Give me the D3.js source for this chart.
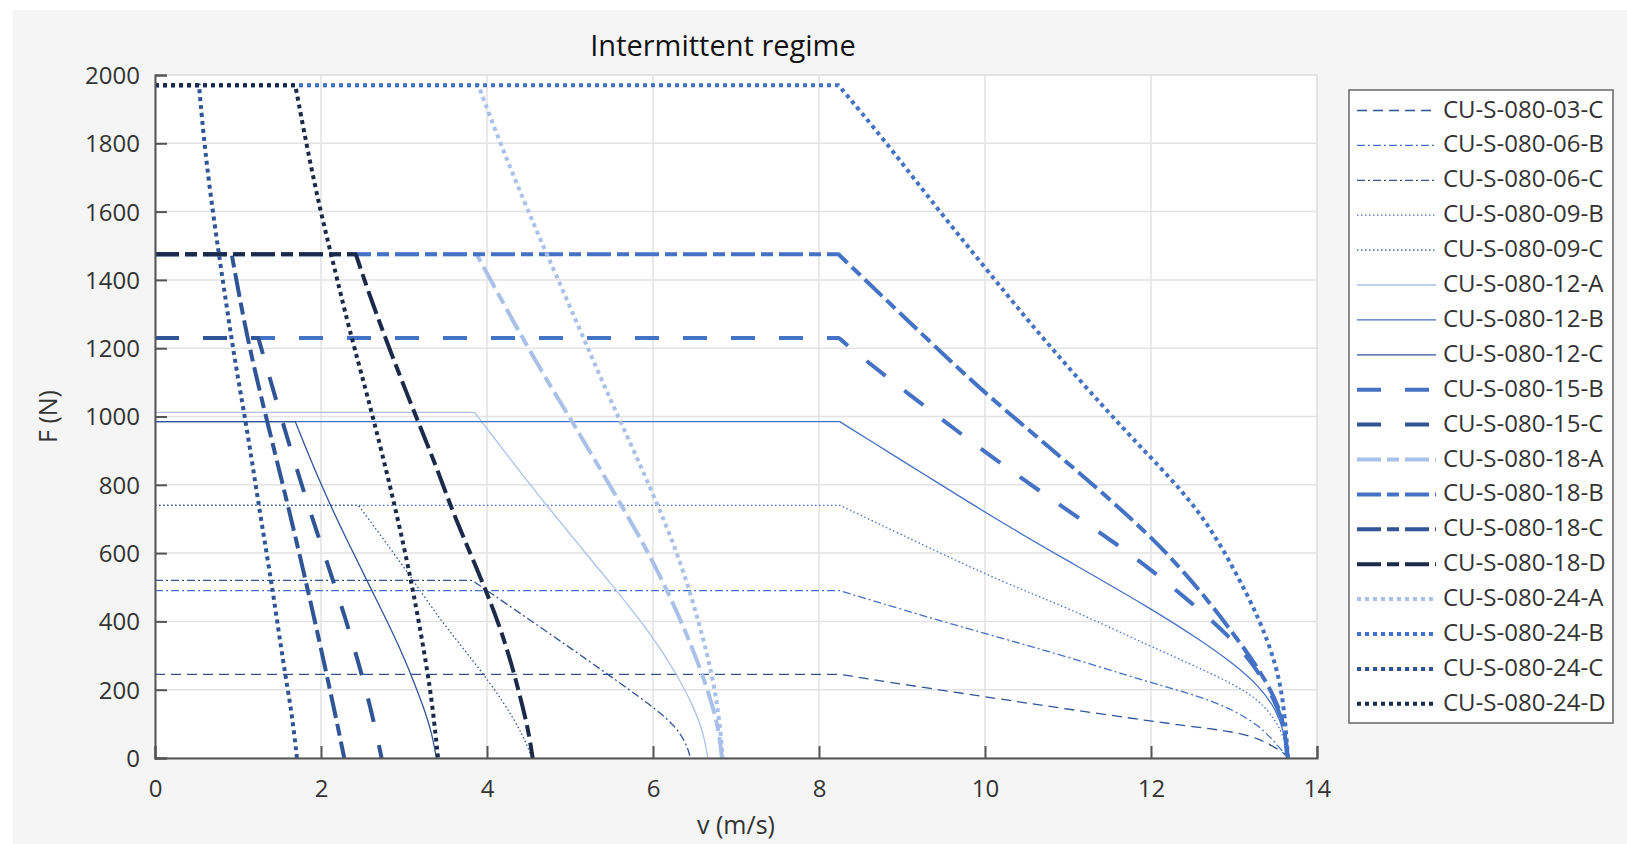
<!DOCTYPE html>
<html>
<head>
<meta charset="utf-8">
<title>Intermittent regime</title>
<script src="https://cdn.jsdelivr.net/npm/d3@7"></script>
<style>
  body { margin: 0; background: #fff; }
  text { font-family: "Open Sans", sans-serif; fill: #333; }
</style>
</head>
<body>
<svg id="viz"></svg>
<script>
// force / speed curves, [v (m/s), F (N)]
// first two points = flat part up to the knee, the rest = falling part
var cu03C = [[0,245],[8.25,245],[9,216],[10.2,172],[11,143],[12,108],[12.5,92],[13,77],[13.3,57],[13.5,30],[13.6,14],[13.65,0]];
var cu06B = [[0,490],[8.25,490],[9.2,420],[10.2,351],[11,296],[12,220],[12.6,180],[13,140],[13.3,95],[13.5,45],[13.65,0]];
var cu06C = [[0,520],[3.82,520],[4.64,384],[5.44,248],[6.0,150],[6.2,108],[6.33,73],[6.42,30],[6.45,0]];
var cu09B = [[0,740],[8.25,740],[9.2,630],[10.2,516],[11,440],[12,326],[12.6,262],[13,215],[13.3,170],[13.5,111],[13.6,62],[13.65,0]];
var cu09C = [[0,740],[2.45,740],[3.03,550],[3.43,405],[3.83,287],[4.2,165],[4.44,65],[4.54,0]];
var cu12A = [[0,1012],[3.85,1012],[4.72,736],[5.56,492],[6.0,355],[6.28,248],[6.49,150],[6.61,72],[6.66,0]];
var cu12B = [[0,985],[8.25,985],[8.94,880],[9.22,838],[10.18,692],[10.98,580],[12.0,438],[12.59,346],[12.99,277],[13.31,209],[13.51,141],[13.61,72],[13.65,0]];
var cu12C = [[0,985],[1.69,985],[1.99,804],[2.31,638],[2.63,482],[2.95,326],[3.19,180],[3.33,82],[3.39,0]];
var cu15B = [[0,1230],[8.24,1230],[8.53,1170],[9.08,1066],[9.67,956],[10.38,829],[11.08,711],[11.57,629],[12.03,546],[12.47,458],[12.91,365],[13.27,267],[13.55,141],[13.62,70],[13.65,0]];
var cu15C = [[0,1230],[1.245,1230],[1.585,941],[1.93,673],[2.31,404],[2.6,150],[2.73,0]];
var cu18A = [[0,1475],[3.875,1475],[4.24,1312],[4.66,1130],[5.04,980],[5.56,765],[6.0,580],[6.41,365],[6.65,209],[6.79,92],[6.83,0]];
var cu18B = [[0,1475],[8.235,1475],[9.27,1234],[10.02,1063],[10.9,885],[12.0,653],[12.59,492],[12.99,365],[13.31,258],[13.55,150],[13.62,70],[13.64,0]];
var cu18C = [[0,1475],[0.924,1475],[1.105,1234],[1.32,1015],[1.627,716],[1.907,424],[2.17,131],[2.28,0]];
var cu18D = [[0,1475],[2.42,1475],[2.63,1322],[3.03,1068],[3.43,830],[3.59,716],[4.0,487],[4.24,326],[4.4,180],[4.5,80],[4.55,0]];
var cu24A = [[0,1970],[3.895,1970],[4.16,1800],[4.44,1634],[4.68,1497],[4.86,1400],[5.38,1107],[5.6,990],[6.0,775],[6.33,580],[6.57,384],[6.73,228],[6.81,92],[6.84,0]];
var cu24B = [[0,1970],[8.235,1970],[8.77,1815],[9.42,1610],[10.02,1430],[10.72,1220],[11.68,960],[12.0,880],[12.59,725],[12.99,560],[13.31,405],[13.5,280],[13.6,165],[13.65,0]];
var cu24C = [[0,1970],[0.53,1970],[0.6,1780],[0.72,1556],[0.84,1361],[0.96,1165],[1.105,970],[1.265,716],[1.425,482],[1.545,277],[1.65,131],[1.71,0]];
var cu24D = [[0,1970],[1.69,1970],[1.83,1790],[1.99,1604],[2.15,1448],[2.33,1263],[2.63,1000],[3.03,599],[3.27,277],[3.35,140],[3.41,0]];

var seriesNames = ["CU-S-080-03-C","CU-S-080-06-B","CU-S-080-06-C","CU-S-080-09-B","CU-S-080-09-C",
    "CU-S-080-12-A","CU-S-080-12-B","CU-S-080-12-C","CU-S-080-15-B","CU-S-080-15-C",
    "CU-S-080-18-A","CU-S-080-18-B","CU-S-080-18-C","CU-S-080-18-D",
    "CU-S-080-24-A","CU-S-080-24-B","CU-S-080-24-C","CU-S-080-24-D"];
var seriesValues = [cu03C, cu06B, cu06C, cu09B, cu09C, cu12A, cu12B, cu12C, cu15B, cu15C,
    cu18A, cu18B, cu18C, cu18D, cu24A, cu24B, cu24C, cu24D];

var vTicks = [0, 2, 4, 6, 8, 10, 12, 14];
var fTicks = [0, 200, 400, 600, 800, 1000, 1200, 1400, 1600, 1800, 2000];

// styles, one per series
var cA = "#a9c1e8", cB = "#4472c4", cC = "#2f5597", cD = "#1b2a4a";
var thin = 1.3, thick = 4;
var styles = [
    {color: cC, w: thin, dash: "10,6"},
    {color: cB, w: thin, dash: "8,3,2,3"},
    {color: cC, w: thin, dash: "8,3,2,3"},
    {color: cB, w: thin, dash: "1.5,2.5"},
    {color: cC, w: thin, dash: "1.5,2.5"},
    {color: cA, w: thin, dash: null},
    {color: cB, w: thin, dash: null},
    {color: cC, w: thin, dash: null},
    {color: cB, w: thick, dash: "24,24"},
    {color: cC, w: thick, dash: "24,24"},
    {color: cA, w: thick, dash: "24,6,12,6"},
    {color: cB, w: thick, dash: "24,6,12,6"},
    {color: cC, w: thick, dash: "24,6,12,6"},
    {color: cD, w: thick, dash: "24,6,12,6"},
    {color: cA, w: thick, dash: "4,4"},
    {color: cB, w: thick, dash: "4,4"},
    {color: cC, w: thick, dash: "4,4"},
    {color: cD, w: thick, dash: "4,4"}
];

var width = 1627, height = 844;
var plot = {left: 155, right: 1317, top: 75, bottom: 758};

var svg = d3.select("#viz").attr("width", width).attr("height", height);

// figure background
svg.append("rect").attr("width", width).attr("height", height).attr("fill", "#fff");
svg.append("rect").attr("x", 13).attr("y", 10).attr("width", width - 13).attr("height", height - 10)
    .attr("fill", "#f5f5f5");

var x = d3.scaleLinear().domain([0, 14]).range([plot.left, plot.right]);
var y = d3.scaleLinear().domain([0, 2000]).range([plot.bottom, plot.top]);

// axes box
svg.append("rect")
    .attr("x", plot.left).attr("y", plot.top)
    .attr("width", plot.right - plot.left).attr("height", plot.bottom - plot.top)
    .attr("fill", "#fff").attr("stroke", "#dcdcdc").attr("stroke-width", 1.5);

// grid
var grid = svg.append("g").attr("class", "grid");
grid.selectAll("line.v").data(vTicks.slice(1, -1)).enter().append("line")
    .attr("x1", function(d) { return x(d); }).attr("x2", function(d) { return x(d); })
    .attr("y1", plot.top).attr("y2", plot.bottom)
    .attr("stroke", "#e2e2e2").attr("stroke-width", 1.5);
grid.selectAll("line.h").data(fTicks.slice(1, -1)).enter().append("line")
    .attr("y1", function(d) { return y(d); }).attr("y2", function(d) { return y(d); })
    .attr("x1", plot.left).attr("x2", plot.right)
    .attr("stroke", "#e2e2e2").attr("stroke-width", 1.5);

svg.append("clipPath").attr("id", "clip").append("rect")
    .attr("x", plot.left).attr("y", plot.top - 4)
    .attr("width", plot.right - plot.left).attr("height", plot.bottom - plot.top + 4);

var flat = d3.line()
    .x(function(d) { return x(d[0]); })
    .y(function(d) { return y(d[1]); });
// falling part smoothed, the knee stays sharp
var fall = d3.line()
    .x(function(d) { return x(d[0]); })
    .y(function(d) { return y(d[1]); })
    .curve(d3.curveBasis);

function curvePath(vals) {
    return flat(vals.slice(0, 2)) + fall(vals.slice(1)).replace(/^M/, "L");
}

var curves = svg.append("g").attr("clip-path", "url(#clip)");
seriesValues.forEach(function(vals, i) {
    var s = styles[i];
    curves.append("path")
        .attr("d", curvePath(vals))
        .attr("fill", "none")
        .attr("stroke", s.color)
        .attr("stroke-width", s.w)
        .attr("stroke-dasharray", s.dash)
        .attr("stroke-linejoin", "round");
});

// axes (ticks pointing inwards)
var xAxis = d3.axisBottom(x).tickValues(vTicks).tickSize(-12).tickPadding(22).tickFormat(d3.format("d"));
var yAxis = d3.axisLeft(y).tickValues(fTicks).tickSize(-12).tickPadding(15).tickFormat(d3.format("d"));

var gx = svg.append("g").attr("transform", "translate(0," + plot.bottom + ")").call(xAxis);
var gy = svg.append("g").attr("transform", "translate(" + plot.left + ",0)").call(yAxis);
[gx, gy].forEach(function(g) {
    g.select(".domain").attr("stroke", "#555").attr("stroke-width", 2);
    g.selectAll(".tick line").attr("stroke", "#555").attr("stroke-width", 2);
    g.selectAll(".tick text").attr("font-size", 24).attr("font-family", "Open Sans").attr("fill", "#333");
});
gy.selectAll(".tick text").attr("dy", "0.35em");

// titles
svg.append("text").attr("x", 723).attr("y", 56).attr("text-anchor", "middle")
    .attr("font-size", 29).style("fill", "#111").text("Intermittent regime");
svg.append("text").attr("x", (plot.left + plot.right) / 2).attr("y", 834).attr("text-anchor", "middle")
    .attr("font-size", 25).text("v (m/s)");
svg.append("text").attr("transform", "translate(57," + ((plot.top + plot.bottom) / 2) + ") rotate(-90)")
    .attr("text-anchor", "middle").attr("font-size", 25).text("F (N)");

// legend
var legend = svg.append("g");
legend.append("rect").attr("x", 1349).attr("y", 90).attr("width", 264).attr("height", 633)
    .attr("fill", "#fff").attr("stroke", "#666").attr("stroke-width", 1.5);
var rowH = 34.9;
var entry = legend.selectAll("g.entry").data(seriesNames).enter().append("g")
    .attr("transform", function(d, i) { return "translate(0," + (108.5 + i * rowH) + ")"; });
entry.append("line")
    .attr("x1", 1357).attr("x2", 1436).attr("y1", 2).attr("y2", 2)
    .attr("stroke", function(d, i) { return styles[i].color; })
    .attr("stroke-width", function(d, i) { return styles[i].w; })
    .attr("stroke-dasharray", function(d, i) { return styles[i].dash; });
entry.append("text")
    .attr("x", 1443).attr("y", 9)
    .attr("font-size", 24)
    .text(function(d) { return d; });
</script>
</body>
</html>
